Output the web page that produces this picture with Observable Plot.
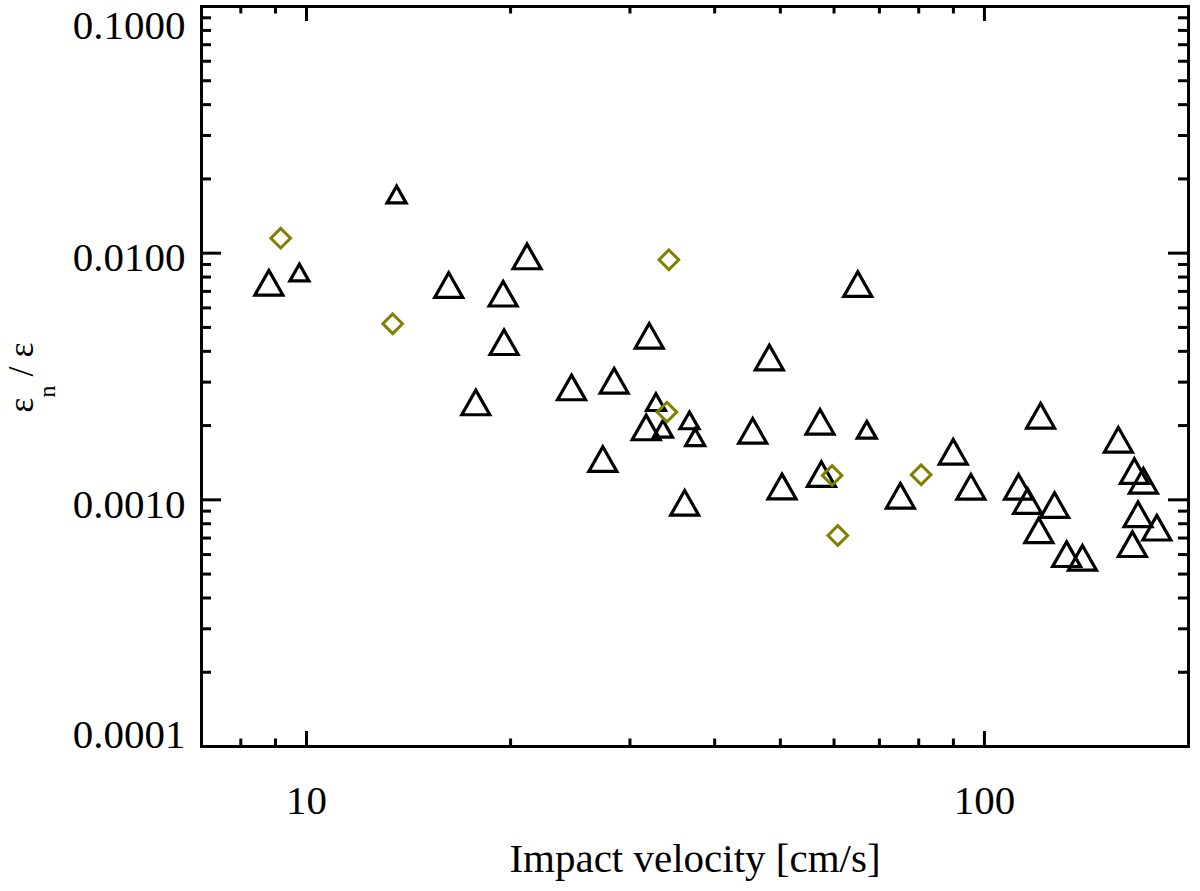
<!DOCTYPE html>
<html>
<head>
<meta charset="utf-8">
<script src="https://cdn.jsdelivr.net/npm/d3@7"></script>
<script src="https://cdn.jsdelivr.net/npm/@observablehq/plot@0.6"></script>
<style>
  html, body { margin: 0; padding: 0; background: #fff; }
</style>
</head>
<body>
<div id="chart"></div>
<script>
// ---- Data ----
// Large triangles
const largeTriVelocity = [8.80, 16.21, 19.50, 19.56, 21.15, 17.77, 24.60, 28.43, 27.36, 32.03,
  31.70, 36.13, 45.52, 48.16, 50.28, 57.21, 57.47, 65.04, 75.16, 89.93,
  95.50, 112.3, 115.8, 121.0, 120.3, 126.9, 132.2, 139.5, 157.6, 166.4,
  171.6, 168.5, 179.6, 165.3];
const largeTriRatio = [0.00759, 0.00742, 0.00685, 0.004356, 0.00970, 0.002482, 0.002855, 0.00304, 0.001462, 0.004626,
  0.001966, 0.000973, 0.001906, 0.003777, 0.001133, 0.002073, 0.001271, 0.00749, 0.001039, 0.001567,
  0.00113, 0.00113, 0.000988, 0.002193, 0.000752, 0.000952, 0.000602, 0.000582, 0.001752, 0.001307,
  0.001195, 0.000873, 0.000771, 0.000661];
// Small triangles
const smallTriVelocity = [9.76, 13.58, 32.77, 33.56, 36.72, 37.44, 67.06];
const smallTriRatio = [0.00835, 0.01729, 0.002489, 0.001942, 0.002099, 0.001794, 0.001924];
// Diamonds
const diamondVelocity = [9.16, 13.40, 34.24, 34.01, 59.61, 60.77, 80.66];
const diamondRatio = [0.01150, 0.005174, 0.00940, 0.002268, 0.001256, 0.000717, 0.001264];

// Ticks
const xMajorTicks = [10, 100];
const xMinorTicks = [8, 9, 20, 30, 40, 50, 60, 70, 80, 90];
const yMajorTicks = [0.0001, 0.001, 0.01, 0.1];
const yMinorTicks = [0.0002, 0.0003, 0.0004, 0.0005, 0.0006, 0.0007, 0.0008, 0.0009,
  0.002, 0.003, 0.004, 0.005, 0.006, 0.007, 0.008, 0.009,
  0.02, 0.03, 0.04, 0.05, 0.06, 0.07, 0.08, 0.09];

const xLabel = "Impact velocity [cm/s]";

// ---- Build tables ----
const zip = (xs, ys) => xs.map((v, i) => ({v, e: ys[i]}));
const largeTri = zip(largeTriVelocity, largeTriRatio);
const smallTri = zip(smallTriVelocity, smallTriRatio);
const diamonds = zip(diamondVelocity, diamondRatio);

// IDL-like symbols centred on their bounding box
const triangleSymbol = {
  draw(context, size) {
    const r = Math.sqrt(size / Math.PI);
    const h = r * 0.88;
    context.moveTo(0, -h);
    context.lineTo(r, h);
    context.lineTo(-r, h);
    context.closePath();
  }
};
const diamondSymbol = {
  draw(context, size) {
    const r = Math.sqrt(size / Math.PI);
    context.moveTo(0, -r);
    context.lineTo(r, 0);
    context.lineTo(0, r);
    context.lineTo(-r, 0);
    context.closePath();
  }
};

const W = 1200, H = 891;
const mL = 201, mR = 12, mT = 6, mB = 145;
const fw = W - mL - mR, fh = H - mT - mB;
const font = "Liberation Serif, Times New Roman, serif";
const fmt4 = d => d.toFixed(4);

const chart = Plot.plot({
  width: W,
  height: H,
  marginLeft: mL,
  marginRight: mR,
  marginTop: mT,
  marginBottom: mB,
  style: {fontFamily: font, background: "#fff", color: "#000"},
  x: {type: "log", domain: [7, 200], axis: null},
  y: {type: "log", domain: [0.0001, 0.1], axis: null},
  marks: [
    // ticks: bottom & top
    Plot.tickX(xMajorTicks, {x: d => d, insetTop: fh - 15, stroke: "#000", strokeWidth: 3}),
    Plot.tickX(xMajorTicks, {x: d => d, insetBottom: fh - 15, stroke: "#000", strokeWidth: 3}),
    Plot.tickX(xMinorTicks, {x: d => d, insetTop: fh - 7.5, stroke: "#000", strokeWidth: 3}),
    Plot.tickX(xMinorTicks, {x: d => d, insetBottom: fh - 7.5, stroke: "#000", strokeWidth: 3}),
    // ticks: left & right
    Plot.tickY(yMajorTicks, {y: d => d, insetRight: fw - 20, stroke: "#000", strokeWidth: 3}),
    Plot.tickY(yMajorTicks, {y: d => d, insetLeft: fw - 20, stroke: "#000", strokeWidth: 3}),
    Plot.tickY(yMinorTicks, {y: d => d, insetRight: fw - 10, stroke: "#000", strokeWidth: 3}),
    Plot.tickY(yMinorTicks, {y: d => d, insetLeft: fw - 10, stroke: "#000", strokeWidth: 3}),
    // tick labels
    Plot.axisX({ticks: xMajorTicks, tickSize: 0, tickPadding: 38, tickFormat: d => String(d),
      fontSize: 41, label: null, fontFamily: font, fill: "#000"}),
    Plot.axisY({ticks: [0.01, 0.001], tickSize: 0, tickPadding: 16, tickFormat: fmt4,
      fontSize: 41, dy: 5, label: null, fontFamily: font, fill: "#000"}),
    Plot.axisY({ticks: [0.1], tickSize: 0, tickPadding: 16, tickFormat: fmt4,
      fontSize: 41, dy: 19, label: null, fontFamily: font, fill: "#000"}),
    Plot.axisY({ticks: [0.0001], tickSize: 0, tickPadding: 16, tickFormat: fmt4,
      fontSize: 41, dy: -12, label: null, fontFamily: font, fill: "#000"}),
    // x axis title
    Plot.text([xLabel], {frameAnchor: "bottom", text: d => d, lineAnchor: "top", dy: 96,
      fontSize: 41, fontFamily: font, fill: "#000"}),
    // data
    Plot.dot(largeTri, {x: "v", y: "e", symbol: triangleSymbol, r: 14, fill: "none",
      stroke: "#000", strokeWidth: 3.2}),
    Plot.dot(smallTri, {x: "v", y: "e", symbol: triangleSymbol, r: 9.5, fill: "none",
      stroke: "#000", strokeWidth: 3.2}),
    Plot.dot(diamonds, {x: "v", y: "e", symbol: diamondSymbol, r: 9.8, fill: "none",
      stroke: "#808000", strokeWidth: 3}),
    Plot.frame({stroke: "#000", strokeWidth: 3})
  ]
});

// y axis title: epsilon_n / epsilon (rotated)
const svg = d3.select(chart);
const t = svg.append("text")
  .attr("transform", "translate(33,377.5) rotate(-90)")
  .attr("text-anchor", "middle")
  .attr("font-family", font)
  .attr("font-size", 36)
  .attr("fill", "#000");
t.append("tspan").text("ε");
t.append("tspan").attr("dy", 22).attr("font-size", 24).text("n");
t.append("tspan").attr("dy", -22).text(" / ε");

document.getElementById("chart").appendChild(chart);
</script>
</body>
</html>
